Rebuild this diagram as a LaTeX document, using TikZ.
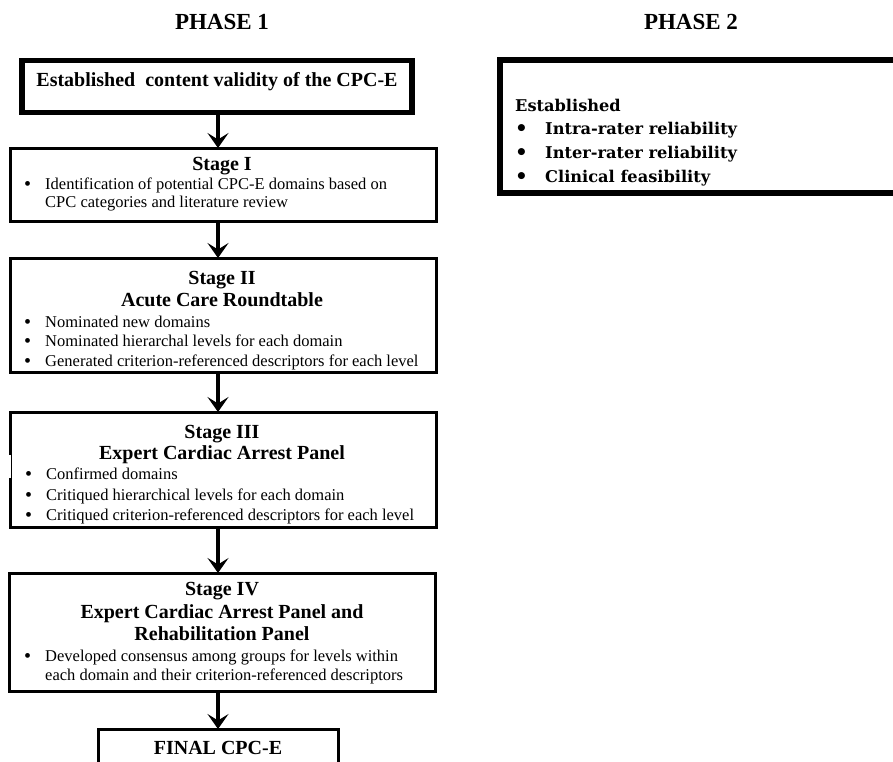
\documentclass[tikz,border=0pt]{standalone}
\usepackage{fontspec}
\setmainfont{Liberation Serif}
\newfontfamily\ptwofont{DejaVu Serif}
\usetikzlibrary{arrows.meta}
\newcommand{\bigbul}{\smash{\raisebox{-0.08em}{\fontsize{20}{20}\selectfont\textbullet}}}
\begin{document}
\begin{tikzpicture}[x=1pt,y=-1pt,
  thickbox/.style={draw, line width=5.5pt, inner sep=0pt, outer sep=0pt},
  stagebox/.style={draw, line width=3pt, inner sep=0pt, outer sep=0pt},
  phase/.style={font=\fontsize{23}{26}\selectfont\bfseries, anchor=mid},
  head/.style={font=\fontsize{20}{22}\selectfont\bfseries, anchor=mid},
  body/.style={font=\fontsize{16.5}{19}\selectfont, anchor=mid west, inner sep=0pt},
  ptwo/.style={font=\ptwofont\fontsize{16.2}{18}\selectfont\bfseries, anchor=mid west, inner sep=0pt},
  arr/.style={line width=3.8pt, -{Stealth[length=15pt,width=21pt,inset=6.5pt]}}]
\useasboundingbox (0,0) rectangle (893,761);
\clip (0,0) rectangle (893,761);
% phase titles
\node[phase] (ph1) at (222,27) {PHASE 1};
\node[phase] (ph2) at (691,27) {PHASE 2};
% boxes
\node[thickbox, minimum width=390pt, minimum height=52pt] (b0) at (217,86.5) {};
\node[stagebox, minimum width=426pt, minimum height=73pt] (s1) at (223,184.5) {};
\node[stagebox, minimum width=426pt, minimum height=114pt] (s2) at (223,315) {};
\node[stagebox, minimum width=426pt, minimum height=115pt] (s3) at (223,469.5) {};
\node[stagebox, minimum width=426pt, minimum height=118pt] (s4) at (222,632) {};
\node[stagebox, minimum width=240pt, minimum height=70pt] (fin) at (218,764) {};
\node[thickbox, minimum width=420pt, minimum height=133pt] (p2) at (710,126.5) {};
% small break in the left border of stage III
\fill[white] (s3.west |- 0,455) ++(-2.5,0) rectangle ++(5,23);
\draw[line width=1.2pt] (s3.west |- 0,455) ++(1.5,0) -- ++(0,23);
% arrows
\coordinate (ax) at (218,0);
\draw[arr] (b0.south -| ax) -- (s1.north -| ax);
\draw[arr] (s1.south -| ax) -- (s2.north -| ax);
\draw[arr] (s2.south -| ax) -- (s3.north -| ax);
\draw[arr] (s3.south -| ax) -- (s4.north -| ax);
\draw[arr] (s4.south -| ax) -- (fin.north -| ax);
% box 0
\node[head] (t0) at (217,84) {Established\ \ content validity of the CPC-E};
% stage I
\node[head] (t1a) at (222,168) {Stage I};
\node[body] (t1b) at (24,187) {\makebox[21pt][l]{\bigbul}Identification of potential CPC-E domains based on};
\node[body] (t1c) at (45,205) {CPC categories and literature review};
% stage II
\node[head] (t2a) at (222,282) {Stage II};
\node[head] (t2b) at (222,304) {Acute Care Roundtable};
\node[body] (t2c) at (24,325) {\makebox[21pt][l]{\bigbul}Nominated new domains};
\node[body] (t2d) at (24,344) {\makebox[21pt][l]{\bigbul}Nominated hierarchal levels for each domain};
\node[body] (t2e) at (24,364) {\makebox[21pt][l]{\bigbul}Generated criterion-referenced descriptors for each level};
% stage III
\node[head] (t3a) at (222,436) {Stage III};
\node[head] (t3b) at (222,457) {Expert Cardiac Arrest Panel};
\node[body] (t3c) at (25,477) {\makebox[21pt][l]{\bigbul}Confirmed domains};
\node[body] (t3d) at (25,498) {\makebox[21pt][l]{\bigbul}Critiqued hierarchical levels for each domain};
\node[body] (t3e) at (25,518) {\makebox[21pt][l]{\bigbul}Critiqued criterion-referenced descriptors for each level};
% stage IV
\node[head] (t4a) at (222,593) {Stage IV};
\node[head] (t4b) at (222,616) {Expert Cardiac Arrest Panel and};
\node[head] (t4c) at (222,638) {Rehabilitation Panel};
\node[body] (t4d) at (24,659) {\makebox[21pt][l]{\bigbul}Developed consensus among groups for levels within};
\node[body] (t4e) at (45,678) {each domain and their criterion-referenced descriptors};
% final
\node[head] (tf) at (218,752) {FINAL CPC-E};
% phase 2
\node[ptwo] (p2a) at (515,109) {Established};
\node[ptwo] (p2b) at (515,132) {\makebox[30pt][l]{\bigbul}Intra-rater reliability};
\node[ptwo] (p2c) at (515,156) {\makebox[30pt][l]{\bigbul}Inter-rater reliability};
\node[ptwo] (p2d) at (515,180) {\makebox[30pt][l]{\bigbul}Clinical feasibility};
\end{tikzpicture}
\end{document}
